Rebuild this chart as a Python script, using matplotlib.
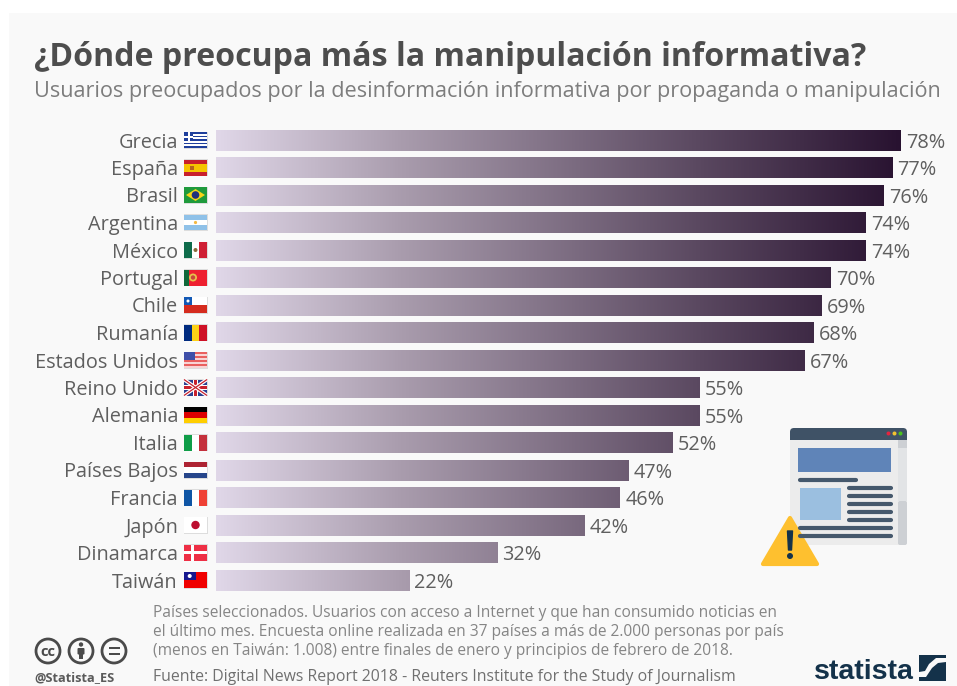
import matplotlib
matplotlib.use('Agg')
import matplotlib.pyplot as plt
import numpy as np
from matplotlib.colors import LinearSegmentedColormap
from matplotlib.patches import Rectangle, Circle, Polygon, FancyBboxPatch

plt.rcParams['font.family'] = ['Open Sans', 'DejaVu Sans']

# datos
paises = ['Grecia', 'España', 'Brasil', 'Argentina', 'México', 'Portugal', 'Chile', 'Rumanía',
          'Estados Unidos', 'Reino Unido', 'Alemania', 'Italia', 'Países Bajos', 'Francia',
          'Japón', 'Dinamarca', 'Taiwán']
valores = [78, 77, 76, 74, 74, 70, 69, 68, 67, 55, 55, 52, 47, 46, 42, 32, 22]
titulo = '¿Dónde preocupa más la manipulación informativa?'
subtitulo = 'Usuarios preocupados por la desinformación informativa por propaganda o manipulación'
nota = ['Países seleccionados. Usuarios con acceso a Internet y que han consumido noticias en',
        'el último mes. Encuesta online realizada en 37 países a más de 2.000 personas por país',
        '(menos en Taiwán: 1.008) entre finales de enero y principios de febrero de 2018.']
fuente = 'Fuente: Digital News Report 2018 - Reuters Institute for the Study of Journalism'

W, H = 957, 686
GRIS = '#5f5f5f'
fig = plt.figure(figsize=(W / 100, H / 100), dpi=100, facecolor='white')

# capa de fondo en pixeles
bg = fig.add_axes([0, 0, 1, 1], zorder=0)
bg.set_xlim(0, W)
bg.set_ylim(H, 0)
bg.axis('off')
bg.add_patch(Rectangle((9, 13), 948, 673, fc='#f9f9f9', ec='none'))

# barras con degradado comun
x0, x1 = 216, 901
y0, y1 = 126.5, 594
ax = fig.add_axes([x0 / W, 1 - y1 / H, (x1 - x0) / W, (y1 - y0) / H], zorder=1)
ax.patch.set_alpha(0)
ax.set_xlim(0, 78)
ax.set_ylim(len(paises) - 0.5, -0.5)
ax.axis('off')
cmap = LinearSegmentedColormap.from_list('bar', [(0, '#e0d7e8'), (0.27, '#a99cad'), (0.707, '#5a4860'), (1, '#281230')])
grad = np.linspace(0, 1, 256).reshape(1, -1)
for i, b in enumerate(ax.barh(range(len(paises)), valores, height=0.75, color='none')):
    im = ax.imshow(grad, cmap=cmap, extent=(0, 78, len(paises) - 0.5, -0.5), aspect='auto')
    im.set_clip_path(b)
    ax.text(valores[i] + 0.6, i, f'{valores[i]}%', va='center_baseline', ha='left', fontsize=14.3,
            color=GRIS, clip_on=False)
ax.set_xlim(0, 78)
ax.set_ylim(len(paises) - 0.5, -0.5)


def franjas(x, y, w, h, colores, vertical=False):
    n = len(colores)
    for k, c in enumerate(colores):
        if vertical:
            bg.add_patch(Rectangle((x + k * w / n, y), w / n, h, fc=c, ec='none'))
        else:
            bg.add_patch(Rectangle((x, y + k * h / n), w, h / n, fc=c, ec='none'))


def bandera(nombre, yc):
    x, w, h = 184, 23, 16
    y = yc - h / 2
    bg.add_patch(Rectangle((x - 0.5, y - 0.5), w + 1, h + 1, fc='#dddddd', ec='none'))
    cx, cy = x + w / 2, yc
    if nombre == 'Grecia':
        franjas(x, y, w, h, ['#1f3f9c', 'white'] * 4 + ['#1f3f9c'])
        bg.add_patch(Rectangle((x, y), 9, 9, fc='#1f3f9c', ec='none'))
        bg.add_patch(Rectangle((x + 3.5, y), 2, 9, fc='white', ec='none'))
        bg.add_patch(Rectangle((x, y + 3.5), 9, 2, fc='white', ec='none'))
    elif nombre == 'España':
        franjas(x, y, w, h, ['#c8202c', '#f5c400', '#f5c400', '#c8202c'])
        bg.add_patch(Rectangle((x + 6, cy - 2), 4, 4.5, fc='#b5651d', ec='none'))
    elif nombre == 'Brasil':
        franjas(x, y, w, h, ['#1f9a3c'])
        bg.add_patch(Polygon([(x + 2, cy), (cx, y + 2), (x + w - 2, cy), (cx, y + h - 2)], fc='#f7d417', ec='none'))
        bg.add_patch(Circle((cx, cy), 3.8, fc='#20307c', ec='none'))
    elif nombre == 'Argentina':
        franjas(x, y, w, h, ['#8fc1e8', 'white', '#8fc1e8'])
        bg.add_patch(Circle((cx, cy), 1.6, fc='#f4b942', ec='none'))
    elif nombre == 'México':
        franjas(x, y, w, h, ['#0e6b4a', 'white', '#cf1f34'], True)
        bg.add_patch(Circle((cx, cy), 2, fc='#8a6a3a', ec='none'))
    elif nombre == 'Portugal':
        franjas(x, y, w, h, ['#11683a', '#ee2030', '#ee2030', '#ee2030', '#ee2030'], True)
        bg.add_patch(Circle((x + 9, cy), 4, fc='#e8c04a', ec='none'))
        bg.add_patch(Circle((x + 9, cy), 2.2, fc='#c9443c', ec='none'))
    elif nombre == 'Chile':
        franjas(x, y, w, h, ['white', '#d52b1e'])
        bg.add_patch(Rectangle((x, y), 8, 8, fc='#1258b5', ec='none'))
        bg.add_patch(Circle((x + 4, y + 4), 1.5, fc='white', ec='none'))
    elif nombre == 'Rumanía':
        franjas(x, y, w, h, ['#002b7f', '#fcd116', '#ce1126'], True)
    elif nombre == 'Estados Unidos':
        franjas(x, y, w, h, ['#e9605f', '#f8d4d4'] * 4)
        bg.add_patch(Rectangle((x, y), 11, 8, fc='#3f4fa8', ec='none'))
    elif nombre == 'Reino Unido':
        franjas(x, y, w, h, ['#2b3f8f'])
        bg.plot([x, x + w], [y, y + h], color='white', lw=2.6, solid_capstyle='butt')
        bg.plot([x, x + w], [y + h, y], color='white', lw=2.6, solid_capstyle='butt')
        bg.plot([x, x + w], [y, y + h], color='#c8202c', lw=0.9, solid_capstyle='butt')
        bg.plot([x, x + w], [y + h, y], color='#c8202c', lw=0.9, solid_capstyle='butt')
        bg.add_patch(Rectangle((cx - 2.5, y), 5, h, fc='white', ec='none'))
        bg.add_patch(Rectangle((x, cy - 2.5), w, 5, fc='white', ec='none'))
        bg.add_patch(Rectangle((cx - 1.3, y), 2.6, h, fc='#c8202c', ec='none'))
        bg.add_patch(Rectangle((x, cy - 1.3), w, 2.6, fc='#c8202c', ec='none'))
    elif nombre == 'Alemania':
        franjas(x, y, w, h, ['#000000', '#dd0000', '#ffce00'])
    elif nombre == 'Italia':
        franjas(x, y, w, h, ['#0f9d48', 'white', '#c4303c'], True)
    elif nombre == 'Países Bajos':
        franjas(x, y, w, h, ['#ae2433', 'white', '#27468b'])
    elif nombre == 'Francia':
        franjas(x, y, w, h, ['#0f55a5', 'white', '#ef4135'], True)
    elif nombre == 'Japón':
        franjas(x, y, w, h, ['white'])
        bg.add_patch(Circle((cx, cy), 4.2, fc='#bc0e2f', ec='none'))
    elif nombre == 'Dinamarca':
        franjas(x, y, w, h, ['#ee2f45'])
        bg.add_patch(Rectangle((x + 7, y), 3, h, fc='white', ec='none'))
        bg.add_patch(Rectangle((x, cy - 1.5), w, 3, fc='white', ec='none'))
    elif nombre == 'Taiwán':
        franjas(x, y, w, h, ['#f00000'])
        bg.add_patch(Rectangle((x, y), 11.5, 8, fc='#15178f', ec='none'))
        bg.add_patch(Circle((x + 5.7, y + 4), 2, fc='white', ec='none'))


# etiquetas y banderas
for i, p in enumerate(paises):
    yc = 140 + i * 27.5
    bg.text(178, yc, p, ha='right', va='center_baseline', fontsize=14.3, color=GRIS)
    bandera(p, yc)

# titulo
bg.text(34.5, 53, titulo, fontsize=23.1, fontweight='bold', color='#4d4d4d', va='center_baseline')
bg.text(34, 89, subtitulo, fontsize=15.6, color='#7d7d7d', va='center_baseline')

# nota y fuente
for k, t in enumerate(nota):
    bg.text(153, 611 + k * 19.2, t, fontsize=11.2, color='#858585', va='center_baseline')
bg.text(153, 675, fuente, fontsize=11.45, color='#707070', va='center_baseline')

# iconos cc
for cx in (48, 81, 114):
    bg.add_patch(Circle((cx, 651), 12, fc='none', ec='#4a4a4a', lw=2))
bg.text(48, 651, 'cc', ha='center', va='center_baseline', fontsize=10.5, fontweight='bold', color='#4a4a4a')
bg.add_patch(Circle((81, 644.5), 2.2, fc='#4a4a4a', ec='none'))
bg.add_patch(FancyBboxPatch((77.5, 648), 7, 6.5, boxstyle='round,pad=0,rounding_size=1', fc='#4a4a4a', ec='none'))
bg.add_patch(Rectangle((79, 654), 4, 5, fc='#4a4a4a', ec='none'))
bg.add_patch(Rectangle((108.5, 647), 11, 2.4, fc='#4a4a4a', ec='none'))
bg.add_patch(Rectangle((108.5, 652.6), 11, 2.4, fc='#4a4a4a', ec='none'))
bg.text(34, 676, '@Statista_ES', fontsize=9.2, fontweight='bold', color='#5a5a5a', va='center_baseline')

# logo statista
AZUL = '#14324a'
bg.text(814, 669, 'statista', fontsize=20.5, fontweight='bold', color=AZUL, va='center_baseline',
        family=['Liberation Sans', 'DejaVu Sans'])
bg.add_patch(Rectangle((919, 655), 27, 26, fc=AZUL, ec='none'))
bg.add_patch(Polygon([(919, 677), (926, 677), (932, 668), (938, 663), (946, 662),
                      (946, 658), (936, 658), (929, 664), (925, 671), (919, 672)], fc='#f9f9f9', ec='none'))

# icono navegador
bg.add_patch(FancyBboxPatch((790, 428), 117, 117, boxstyle='round,pad=0,rounding_size=4', fc='#ececec', ec='none'))
bg.add_patch(Rectangle((898, 440), 9, 61, fc='#e2e4e6', ec='none'))
bg.add_patch(FancyBboxPatch((898, 501), 9, 44, boxstyle='round,pad=0,rounding_size=2', fc='#cdd0d4', ec='none'))
bg.add_patch(Rectangle((898, 440), 9, 8, fc='#cdd0d4', ec='none'))
bg.add_patch(FancyBboxPatch((790, 428), 117, 12, boxstyle='round,pad=0,rounding_size=4', fc='#3f5266', ec='none'))
bg.add_patch(Rectangle((790, 434), 117, 6, fc='#3f5266', ec='none'))
for cx, c in ((888.5, '#e5243f'), (894.5, '#f2c230'), (900.5, '#4cc21e')):
    bg.add_patch(Circle((cx, 433.5), 2, fc=c, ec='none'))
bg.add_patch(Rectangle((798, 448), 93, 24, fc='#5f84b8', ec='none'))
bg.add_patch(Rectangle((800, 488), 41, 32, fc='#9bbfe0', ec='none'))
lineas = [(798, 858, 480), (847, 893, 488), (847, 893, 496), (847, 893, 504), (847, 893, 512),
          (847, 893, 520), (798, 893, 528), (798, 893, 536)]
for xa, xb, yl in lineas:
    bg.plot([xa + 2, xb - 2], [yl, yl], color='#45586c', lw=3, solid_capstyle='round')
# aviso
bg.add_patch(Polygon([(790, 518), (817, 564), (763, 564)], closed=True, fc='#fec02f', ec='#fec02f', lw=3, joinstyle='round'))
bg.add_patch(Polygon([(787.5, 531), (792.5, 531), (791.5, 550), (788.5, 550)], fc='#14324a', ec='#14324a', lw=1, joinstyle='round'))
bg.add_patch(Circle((790, 556), 3, fc='#14324a', ec='none'))

bg.set_xlim(0, W)
bg.set_ylim(H, 0)
fig.savefig('out.png', dpi=100, facecolor='white')
